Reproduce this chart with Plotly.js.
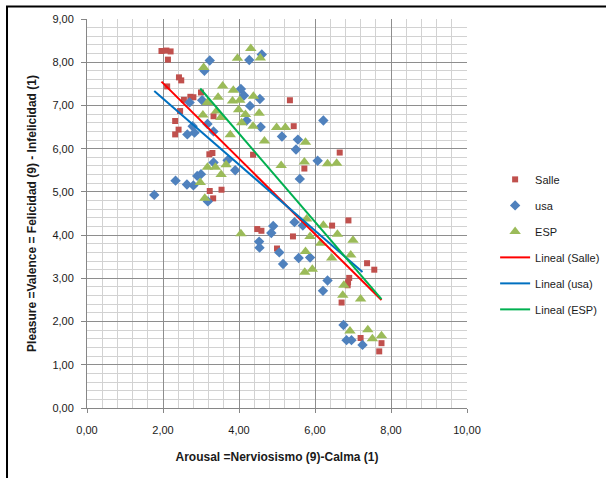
<!DOCTYPE html>
<html>
<head>
<meta charset="utf-8">
<script src="https://cdn.plot.ly/plotly-3.0.1.min.js"></script>
<style>
  html, body { margin: 0; padding: 0; background: #ffffff; }
  #chart { width: 606px; height: 478px; }
</style>
</head>
<body>
<div id="chart"></div>
<script>
// ---- Data ----
const salleX = [1.96, 2.09, 2.20, 2.13, 2.42, 2.48, 2.11, 2.55, 2.72, 2.80, 3.00, 2.45, 3.33, 2.32, 2.41, 2.32, 3.22, 3.30, 4.37, 3.23, 3.54, 3.32, 4.48, 4.59, 5.00, 5.42, 5.34, 5.44, 6.65, 5.72, 6.45, 6.88, 7.37, 7.56, 6.90, 6.87, 6.86, 6.70, 7.20, 7.75, 7.69];
const salleY = [8.26, 8.27, 8.25, 8.06, 7.65, 7.58, 7.44, 7.13, 7.20, 7.19, 7.30, 6.87, 6.75, 6.64, 6.44, 6.33, 5.87, 5.90, 5.86, 5.02, 5.05, 4.85, 4.14, 4.10, 3.69, 3.97, 7.12, 6.52, 5.91, 5.54, 4.22, 4.34, 3.35, 3.20, 3.01, 2.91, 2.84, 2.44, 1.62, 1.50, 1.31];

const usaX = [1.77, 2.33, 2.63, 2.80, 2.90, 3.00, 3.33, 3.70, 3.90, 3.18, 3.23, 3.09, 4.27, 4.60, 4.05, 4.13, 4.55, 4.29, 2.70, 3.03, 3.17, 2.78, 2.83, 2.64, 3.33, 4.20, 4.57, 6.22, 5.13, 5.55, 5.50, 6.07, 5.60, 5.46, 5.68, 4.90, 4.85, 4.53, 4.54, 5.06, 5.16, 5.57, 5.87, 6.33, 6.21, 6.75, 6.83, 6.96, 7.25];
const usaY = [4.93, 5.26, 5.17, 5.15, 5.37, 5.41, 5.68, 5.73, 5.50, 4.78, 8.04, 7.80, 8.05, 8.18, 7.38, 7.23, 7.15, 6.99, 7.07, 7.12, 6.57, 6.52, 6.37, 6.33, 6.40, 6.65, 6.50, 6.65, 6.28, 6.21, 5.98, 5.72, 5.30, 4.30, 4.22, 4.21, 4.05, 3.85, 3.71, 3.60, 3.33, 3.47, 3.48, 2.95, 2.71, 1.92, 1.57, 1.57, 1.46];

const espX = [4.31, 3.96, 4.56, 3.07, 3.57, 3.85, 3.45, 4.38, 3.17, 3.83, 4.02, 3.41, 3.99, 4.53, 3.05, 4.17, 3.52, 4.07, 4.37, 3.77, 4.67, 4.99, 5.22, 5.75, 5.11, 5.72, 6.33, 6.57, 3.17, 3.38, 3.66, 3.53, 2.98, 3.10, 4.05, 5.78, 6.22, 6.59, 5.87, 7.00, 6.15, 5.75, 6.94, 6.44, 5.93, 5.73, 6.76, 6.73, 7.20, 6.92, 7.39, 7.51, 7.75];
const espY = [8.32, 8.09, 8.10, 7.88, 7.45, 7.35, 7.19, 7.21, 7.07, 7.10, 7.12, 6.87, 6.90, 6.82, 6.78, 6.79, 6.72, 6.60, 6.52, 6.32, 6.18, 6.49, 6.49, 6.15, 5.61, 5.69, 5.65, 5.66, 5.57, 5.57, 5.63, 5.40, 5.22, 4.85, 4.03, 4.37, 4.23, 4.02, 3.97, 3.88, 3.81, 3.62, 3.54, 3.47, 3.21, 3.14, 2.84, 2.61, 2.52, 1.78, 1.81, 1.60, 1.67];

const seriesNames = ['Salle', 'usa', 'ESP'];
const trendNames = ['Lineal (Salle)', 'Lineal (usa)', 'Lineal (ESP)'];
const xTitle = 'Arousal =Nerviosismo (9)-Calma (1)';
const yTitle = 'Pleasure =Valence = Felicidad (9) - Infelicidad (1)';

// ---- Least-squares trend line (Excel "Lineal") ----
function trend(xs, ys) {
  const n = xs.length;
  let sx = 0, sy = 0, sxx = 0, sxy = 0;
  for (let i = 0; i < n; i++) { sx += xs[i]; sy += ys[i]; sxx += xs[i]*xs[i]; sxy += xs[i]*ys[i]; }
  const b = (n*sxy - sx*sy) / (n*sxx - sx*sx);
  const a = (sy - b*sx) / n;
  const x0 = Math.min(...xs), x1 = Math.max(...xs);
  return { x: [x0, x1], y: [a + b*x0, a + b*x1] };
}

const tS = trend(salleX, salleY);
const tU = trend(usaX, usaY);
const tE = trend(espX, espY);

const traces = [
  { x: salleX, y: salleY, name: seriesNames[0], type: 'scatter', mode: 'markers',
    marker: { symbol: 'square', size: 6, color: '#C0504D' }, legendgroup: 'a' },
  { x: usaX, y: usaY, name: seriesNames[1], type: 'scatter', mode: 'markers',
    marker: { symbol: 'diamond', size: 8, color: '#4F81BD' }, legendgroup: 'b' },
  { x: espX, y: espY, name: seriesNames[2], type: 'scatter', mode: 'markers',
    marker: { symbol: 'triangle-up', size: 10, color: '#9BBB59' }, legendgroup: 'c' },
  { x: tS.x, y: tS.y, name: trendNames[0], type: 'scatter', mode: 'lines',
    line: { color: '#FF0000', width: 2 }, legendgroup: 'd' },
  { x: tU.x, y: tU.y, name: trendNames[1], type: 'scatter', mode: 'lines',
    line: { color: '#0070C0', width: 2 }, legendgroup: 'e' },
  { x: tE.x, y: tE.y, name: trendNames[2], type: 'scatter', mode: 'lines',
    line: { color: '#00B050', width: 2 }, legendgroup: 'f' }
];

const fontFam = '"Liberation Sans", Arial, sans-serif';

const layout = {
  width: 606, height: 478,
  margin: { l: 87, r: 139, t: 19, b: 70, autoexpand: false },
  paper_bgcolor: '#ffffff', plot_bgcolor: '#ffffff',
  separators: ',.',
  font: { family: fontFam, size: 11, color: '#1a1a1a' },
  showlegend: true,
  legend: {
    x: 1.074, xanchor: 'left', y: 0.625, yanchor: 'top',
    font: { family: fontFam, size: 11, color: '#1a1a1a' },
    tracegroupgap: 7, traceorder: 'grouped',
    bgcolor: 'rgba(0,0,0,0)', itemwidth: 30
  },
  xaxis: {
    range: [0, 10], dtick: 2, tick0: 0, tickformat: '.2f',
    showgrid: true, gridcolor: '#8e8e8e', gridwidth: 1,
    minor: { dtick: 0.4, showgrid: true, gridcolor: '#d2d2d2', gridwidth: 1 },
    showline: true, linecolor: '#868686', linewidth: 1,
    ticks: 'outside', ticklen: 4, tickcolor: '#868686',
    zeroline: false, ticklabelstandoff: 8,
    tickfont: { family: fontFam, size: 11, color: '#1a1a1a' },
    title: { text: xTitle, standoff: 17, font: { family: fontFam, size: 12, color: '#1a1a1a', weight: 'bold' } }
  },
  yaxis: {
    range: [0, 9], dtick: 1, tick0: 0, tickformat: '.2f',
    showgrid: true, gridcolor: '#8e8e8e', gridwidth: 1,
    minor: { dtick: 0.2, showgrid: true, gridcolor: '#d2d2d2', gridwidth: 1 },
    showline: true, linecolor: '#868686', linewidth: 1,
    ticks: 'outside', ticklen: 5, tickcolor: '#868686',
    zeroline: false, ticklabelstandoff: 5,
    tickfont: { family: fontFam, size: 11, color: '#1a1a1a' },
    title: { text: yTitle, standoff: 13, font: { family: fontFam, size: 12, color: '#1a1a1a', weight: 'bold' } }
  },
  shapes: [
    { type: 'rect', xref: 'paper', yref: 'paper', x0: -0.2105, x1: 1.8, y0: -0.4, y1: 1.032,
      line: { color: '#000000', width: 2 }, fillcolor: 'rgba(0,0,0,0)', layer: 'above' }
  ]
};

Plotly.newPlot('chart', traces, layout, { displayModeBar: false, staticPlot: true });
</script>
</body>
</html>
